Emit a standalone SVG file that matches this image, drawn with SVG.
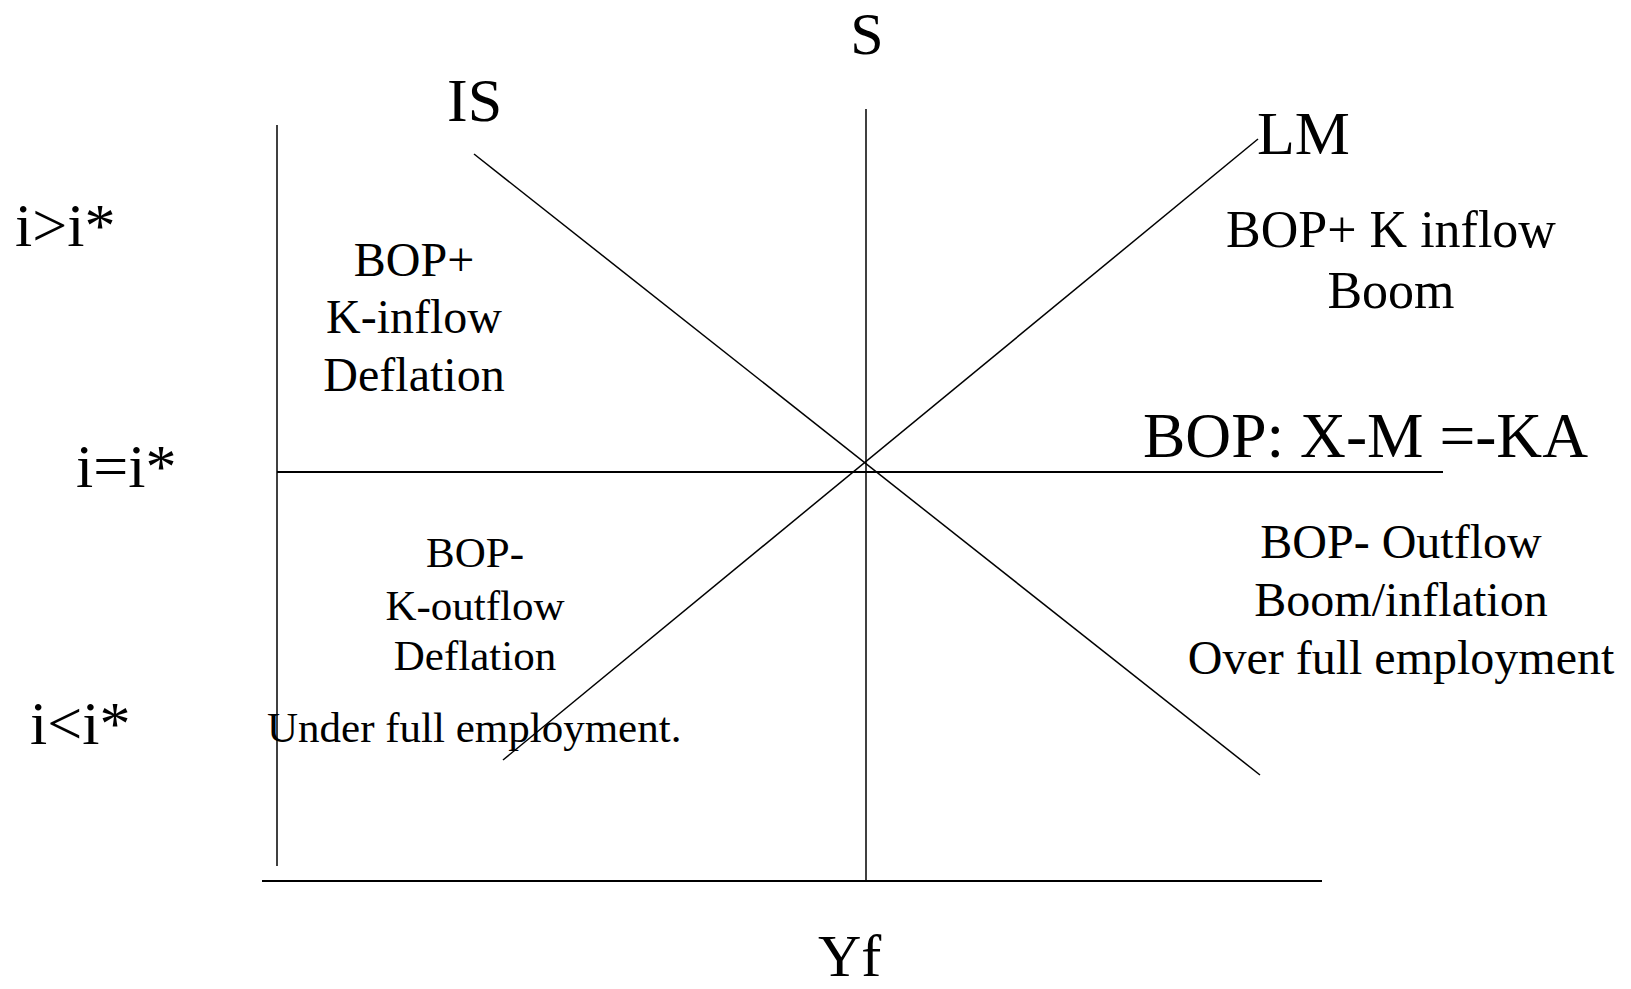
<svg xmlns="http://www.w3.org/2000/svg" width="1631" height="989" viewBox="0 0 1631 989">
<style>
text{font-family:"Liberation Serif","Times New Roman",serif;fill:#000}
.big{font-size:62px}
.mid{font-size:48px}
.sm{font-size:43px}
line{stroke:#000;fill:none}
.thin{stroke-width:1.5}
.thick{stroke-width:2.2}
</style>
<rect width="1631" height="989" fill="#fff"/>
<g id="connectors">
<line class="thin" x1="277" y1="125" x2="277" y2="866"/>
<line class="thin" x1="866" y1="109" x2="866" y2="881"/>
<line class="thick" x1="262" y1="881" x2="1322" y2="881"/>
<line class="thick" x1="277" y1="472" x2="1443" y2="472"/>
<line class="thin" x1="474" y1="154" x2="1260" y2="775"/>
<line class="thin" x1="503" y1="760" x2="1258" y2="139"/>
</g>
<g id="label-S"><text x="867" y="54" text-anchor="middle" style="font-size:60px">S</text></g>
<g id="label-IS"><text class="big" x="447" y="121">IS</text></g>
<g id="label-LM"><text class="big" x="1257" y="154">LM</text></g>
<g id="label-Yf"><text x="818" y="976" style="font-size:60px">Yf</text></g>
<g id="label-BOP"><text x="1143" y="457" style="font-size:63.5px">BOP: X-M =-KA</text></g>
<g id="label-igt"><text class="big" x="15" y="246">i&gt;i*</text></g>
<g id="label-ieq"><text class="big" x="76" y="487">i=i*</text></g>
<g id="label-ilt"><text class="big" x="30" y="744">i&lt;i*</text></g>
<g id="region-ul">
<text class="mid" x="414" y="276" text-anchor="middle">BOP+</text>
<text class="mid" x="414" y="333" text-anchor="middle">K-inflow</text>
<text class="mid" x="414" y="391" text-anchor="middle">Deflation</text>
</g>
<g id="region-ur">
<text x="1391" y="247" text-anchor="middle" style="font-size:52px">BOP+ K inflow</text>
<text x="1391" y="308" text-anchor="middle" style="font-size:52px">Boom</text>
</g>
<g id="region-ll">
<text class="sm" x="475" y="567" text-anchor="middle">BOP-</text>
<text class="sm" x="475" y="620" text-anchor="middle">K-outflow</text>
<text class="sm" x="475" y="670" text-anchor="middle">Deflation</text>
<text class="sm" x="267" y="742">Under full employment.</text>
</g>
<g id="region-lr">
<text class="mid" x="1401" y="558" text-anchor="middle">BOP- Outflow</text>
<text class="mid" x="1401" y="616" text-anchor="middle">Boom/inflation</text>
<text class="mid" x="1401" y="674" text-anchor="middle">Over full employment</text>
</g>
</svg>
